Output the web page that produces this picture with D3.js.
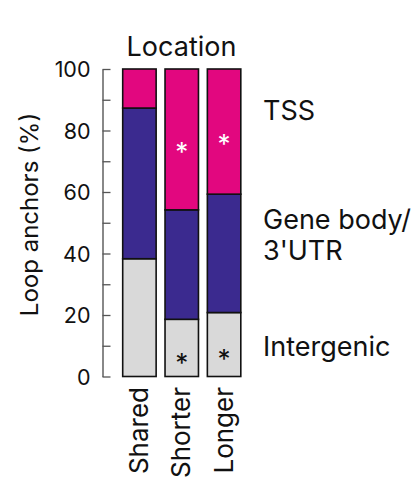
<!DOCTYPE html>
<html><head><meta charset="utf-8">
<script src="https://cdn.jsdelivr.net/npm/d3@7"></script>
<style>body{margin:0;background:#fff}svg{display:block}text{font-family:Inter,"Noto Sans",sans-serif;fill:#111}</style>
</head><body><svg id="c" width="419" height="497"></svg>
<script>
const categories = ["Shared","Shorter","Longer"];
const segments = ["Intergenic","Gene body/3'UTR","TSS"];
const intergenic = [38.3, 18.6, 20.8];
const geneBody = [49.0, 35.6, 38.5];
const tss = [12.7, 45.8, 40.7];
const yTicks = [0,10,20,30,40,50,60,70,80,90,100];
const stars = [
  {cat:"Shorter", value:73.8, color:"#fff"},
  {cat:"Longer", value:76.2, color:"#fff"},
  {cat:"Shorter", value:5.2, color:"#111"},
  {cat:"Longer", value:6.5, color:"#111"}
];
const colors = {"Intergenic":"#d9d9d9","Gene body/3'UTR":"#3b2a8f","TSS":"#e2077f"};

const svg = d3.select("#c");
const y = d3.scaleLinear().domain([0,100]).range([376.5,69]);
const x = d3.scaleBand().domain(categories).range([122.7,240.8]).paddingInner(0.21).paddingOuter(0);

const rows = categories.map((c,i)=>({cat:c,"Intergenic":intergenic[i],"Gene body/3'UTR":geneBody[i],"TSS":tss[i]}));
const stack = d3.stack().keys(segments)(rows);

svg.append("g").selectAll("g").data(stack).join("g")
  .attr("fill", d=>colors[d.key])
  .selectAll("rect").data(d=>d).join("rect")
  .attr("x", d=>x(d.data.cat)).attr("width", x.bandwidth())
  .attr("y", d=>y(d[1])).attr("height", d=>y(d[0])-y(d[1]))
  .attr("stroke","#111").attr("stroke-width",1.6);

// axis
const ax = svg.append("g").attr("transform","translate(102.5,0)")
  .call(d3.axisLeft(y).tickValues(yTicks).tickSize(-8).tickSizeOuter(0).tickPadding(12)
    .tickFormat(d=> d%20===0 ? d : ""));
ax.select(".domain").attr("stroke","#888").attr("stroke-width",2);
ax.selectAll(".tick line").attr("stroke","#555").attr("stroke-width",1.3);
ax.selectAll(".tick text").attr("font-size",21.5).attr("font-family","Inter").attr("fill","#111").attr("dy","0.36em");

// stars
svg.append("g").selectAll("text").data(stars).join("text")
  .attr("x", d=>x(d.cat)+x.bandwidth()/2).attr("y", d=>y(d.value)+11)
  .attr("text-anchor","middle").attr("font-size",26).style("fill",d=>d.color).text("*");

// category labels
svg.append("g").selectAll("text").data(categories).join("text")
  .attr("transform", d=>`translate(${x(d)+x.bandwidth()/2+8.5},387) rotate(-90)`)
  .attr("text-anchor","end").attr("font-size",26).text(d=>d);

// title
svg.append("text").attr("x",181.5).attr("y",55.5).attr("text-anchor","middle").attr("font-size",27).text("Location");

// y label
svg.append("text").attr("transform","translate(38,214.5) rotate(-90)").attr("text-anchor","middle").attr("font-size",24).text("Loop anchors (%)");

// segment labels
const segLabels = [["TSS"],["Gene body/","3'UTR"],["Intergenic"]];
const segY = [120, 228.8, 356];
svg.append("g").selectAll("text").data(segLabels).join("text")
  .attr("x",263).attr("y",(d,i)=>segY[i]).attr("font-size",27)
  .selectAll("tspan").data(d=>d).join("tspan").attr("x",263).attr("dy",(d,i)=>i?31.5:0).text(d=>d);
</script></body></html>
